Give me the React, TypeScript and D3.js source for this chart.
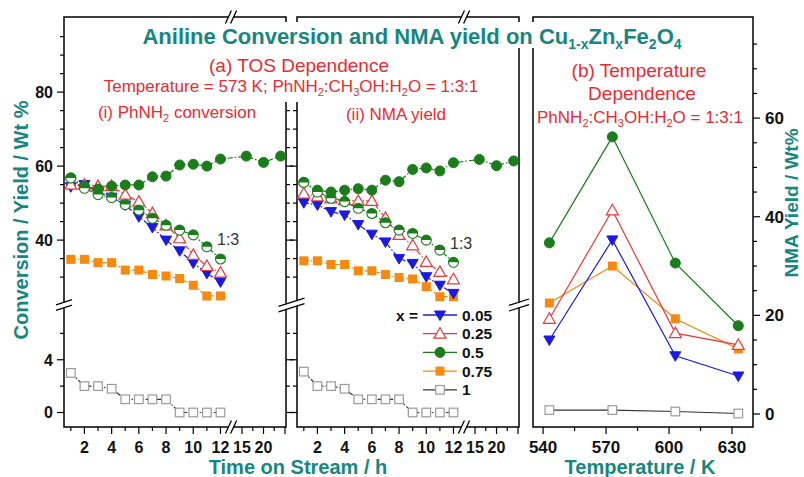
import React from 'react';
import * as d3 from 'd3';

// ---------------- data ----------------
const HOURS = [1, 2, 3, 4, 5, 6, 7, 8, 9, 10, 11, 12];
const HOURS_LONG = [16, 20, 24];
const TEMPS = [543, 573, 603, 633];

// (i) PhNH2 conversion, wt%
const CONV_X005 = [54.4, 55.0, 53.0, 51.6, 49.5, 46.3, 43.4, 40.0, 37.1, 33.8, 31.0, 28.7];
const CONV_X025 = [55.0, 55.0, 54.6, 54.6, 52.3, 50.4, 47.3, 44.0, 40.5, 36.0, 33.0, 31.2];
const CONV_X05 = [56.8, 54.6, 53.8, 54.6, 54.9, 54.9, 57.1, 57.3, 60.3, 60.5, 60.0, 61.9];
const CONV_X05_LONG = [62.7, 61.0, 62.7];
const CONV_X05_13 = [56.8, 54.0, 52.3, 51.5, 49.6, 48.1, 45.9, 44.0, 42.7, 41.4, 38.2, 34.9];
const CONV_X075 = [34.8, 34.8, 33.9, 33.9, 31.9, 31.9, 30.7, 30.3, 29.6, 27.8, 24.9, 24.9];
const CONV_X1 = [3.0, 2.0, 2.0, 1.8, 1.0, 1.0, 1.0, 1.0, 0, 0, 0, 0];

// (ii) NMA yield, wt%
const YIELD_X005 = [50.1, 49.5, 47.7, 46.8, 44.2, 41.6, 39.5, 35.0, 33.7, 30.1, 27.8, 25.6];
const YIELD_X025 = [52.6, 51.8, 51.3, 50.8, 50.6, 50.6, 46.0, 41.4, 38.6, 34.1, 31.4, 29.4];
const YIELD_X05 = [55.6, 53.5, 53.0, 53.5, 53.9, 53.5, 56.2, 55.8, 59.1, 59.5, 58.7, 60.9];
const YIELD_X05_LONG = [61.8, 60.1, 61.4];
const YIELD_X05_13 = [55.6, 53.0, 51.3, 50.4, 48.6, 47.2, 44.7, 42.7, 41.8, 40.0, 37.3, 34.0];
const YIELD_X075 = [34.4, 34.4, 33.4, 33.4, 31.7, 31.7, 30.7, 29.9, 29.5, 27.4, 24.7, 24.7];
const YIELD_X1 = [3.1, 2.0, 2.0, 1.8, 1.0, 1.0, 1.0, 1.0, 0, 0, 0, 0];

// (b) temperature dependence, NMA yield wt%
const TEMP_X005 = [15.0, 35.3, 11.8, 7.7];
const TEMP_X025 = [19.3, 41.3, 16.4, 14.0];
const TEMP_X05 = [34.7, 56.2, 30.6, 17.9];
const TEMP_X075 = [22.5, 30.0, 19.3, 13.2];
const TEMP_X1 = [0.8, 0.8, 0.5, 0.1];

const LEGEND_LABELS = ['0.05', '0.25', '0.5', '0.75', '1'];

// ---------------- styles ----------------
const W = 804, H = 477;
const FONT = 'Arial, "Liberation Sans", Helvetica, sans-serif';
const TEAL = '#16877f';
const RED_TXT = '#ea2a30';
const C_BLUE = '#1a1ae0';
const C_RED = '#e83838';
const C_GREEN = '#1a7d1a';
const C_ORANGE = '#f7890f';
const C_BLACK = '#333333';
const C_GREY = '#9a9a9a';
const DASH = '5,2,1.5,2';

type MType = 'down' | 'upOpen' | 'circle' | 'half' | 'square' | 'squareOpen';

const STYLES: { color: string; marker: MType }[] = [
  { color: C_BLUE, marker: 'down' },
  { color: C_RED, marker: 'upOpen' },
  { color: C_GREEN, marker: 'circle' },
  { color: C_ORANGE, marker: 'square' },
  { color: C_BLACK, marker: 'squareOpen' },
];

// ---------------- scales ----------------
const TOP = 17, BOT = 427;
const yUp = d3.scaleLinear().domain([23, 100.3]).range([303, TOP]);
const yLow = d3.scaleLinear().domain([-1.1, 8]).range([BOT, 307]);
const yTOS = (v: number) => (v >= 15 ? yUp(v) : yLow(v));

const PW = 222;
function makePanelX(x0: number) {
  const pre = d3.scaleLinear().domain([0.5, 12.7]).range([x0, x0 + 166]);
  const post = d3.scaleLinear().domain([12.67, 25.23]).range([x0 + 168, x0 + PW]);
  return (h: number) => (h <= 12.7 ? pre(h) : post(h));
}
const X_LEFT = 64, X_MID = 297, X_RIGHT = 533, X_RIGHT_END = 753;
const xL = makePanelX(X_LEFT);
const xM = makePanelX(X_MID);
const xT = d3.scaleLinear().domain([535.2, 640]).range([X_RIGHT, X_RIGHT_END]);
const yT = d3.scaleLinear().domain([-2.64, 80.5]).range([BOT, TOP]);

// ---------------- helpers ----------------
function Marker({ type, x, y, color }: { type: MType; x: number; y: number; color: string }) {
  switch (type) {
    case 'down':
      return <path d={`M${x - 5.5},${y - 4}L${x + 5.5},${y - 4}L${x},${y + 5.5}Z`} fill={color} stroke={color} strokeWidth={1} />;
    case 'upOpen':
      return <path d={`M${x},${y - 6}L${x + 6},${y + 4.5}L${x - 6},${y + 4.5}Z`} fill="white" stroke={color} strokeWidth={1.2} />;
    case 'circle':
      return <circle cx={x} cy={y} r={5} fill={color} stroke={color} strokeWidth={1} />;
    case 'half':
      return (
        <g>
          <circle cx={x} cy={y} r={5} fill="white" stroke={color} strokeWidth={1.1} />
          <path d={`M${x - 5},${y}A5,5 0 0,1 ${x + 5},${y}Z`} fill={color} />
        </g>
      );
    case 'square':
      return <rect x={x - 4.5} y={y - 4.5} width={9} height={9} fill={color} />;
    case 'squareOpen':
      return <rect x={x - 4.3} y={y - 4.3} width={8.6} height={8.6} fill="white" stroke={C_GREY} strokeWidth={1.2} />;
  }
  return null;
}

function Series({ pts, color, marker, dash, lineColor }: { pts: [number, number][]; color: string; marker: MType; dash?: string; lineColor?: string }) {
  const line = d3.line<[number, number]>().x((d) => d[0]).y((d) => d[1]);
  return (
    <g>
      <path d={line(pts) || ''} fill="none" stroke={lineColor || color} strokeWidth={1.2} strokeDasharray={dash} />
      {pts.map((p, i) => (
        <Marker key={i} type={marker} x={p[0]} y={p[1]} color={color} />
      ))}
    </g>
  );
}

type Seg = [string, boolean];
function Chem({ segs, sub, shift }: { segs: Seg[]; sub: number; shift: number }) {
  const out: React.ReactNode[] = [];
  let prevSub = false;
  segs.forEach(([t, isSub], i) => {
    let dy = 0;
    if (isSub && !prevSub) dy = shift;
    if (!isSub && prevSub) dy = -shift;
    out.push(
      <tspan key={i} dy={dy} fontSize={isSub ? sub : undefined}>
        {t}
      </tspan>
    );
    prevSub = isSub;
  });
  return <>{out}</>;
}

function VBreak({ cx, cy, hw }: { cx: number; cy: number; hw: number }) {
  const s = hw * 0.32;
  const g = 2.8;
  const a1: [number, number] = [cx - hw, cy - g + s];
  const a2: [number, number] = [cx + hw, cy - g - s];
  const b1: [number, number] = [cx - hw, cy + g + s];
  const b2: [number, number] = [cx + hw, cy + g - s];
  return (
    <g>
      <path d={`M${a1}L${a2}L${b2}L${b1}Z`} fill="white" />
      <path d={`M${a1}L${a2}M${b1}L${b2}`} stroke="black" strokeWidth={1.3} />
    </g>
  );
}

function HBreak({ cx, cy }: { cx: number; cy: number }) {
  const g = 2.6;
  const a1: [number, number] = [cx - g - 3, cy + 6.5];
  const a2: [number, number] = [cx - g + 3, cy - 6.5];
  const b1: [number, number] = [cx + g - 3, cy + 6.5];
  const b2: [number, number] = [cx + g + 3, cy - 6.5];
  return (
    <g>
      <path d={`M${a1}L${a2}L${b2}L${b1}Z`} fill="white" />
      <path d={`M${a1}L${a2}M${b1}L${b2}`} stroke="black" strokeWidth={1.3} />
    </g>
  );
}

const UP_TICKS = d3.range(30, 100, 5);
const LOW_TICKS = [0, 2, 4, 6];
const UP_MAJOR = [40, 60, 80];
const LOW_MAJOR = [0, 4];

function TOSYTicks({ x, dir, labels }: { x: number; dir: number; labels: boolean }) {
  const items: React.ReactNode[] = [];
  UP_TICKS.forEach((v) => {
    const maj = UP_MAJOR.includes(v);
    const y = yUp(v);
    items.push(<line key={'u' + v} x1={x} x2={x + dir * (maj ? 7 : 4)} y1={y} y2={y} stroke="black" strokeWidth={1.2} />);
    if (labels && maj)
      items.push(
        <text key={'ul' + v} x={x - 11} y={y + 5.8} textAnchor="end" fontSize={16} fontWeight="bold" fill="#111">
          {v}
        </text>
      );
  });
  LOW_TICKS.forEach((v) => {
    const maj = LOW_MAJOR.includes(v);
    const y = yLow(v);
    items.push(<line key={'l' + v} x1={x} x2={x + dir * (maj ? 7 : 4)} y1={y} y2={y} stroke="black" strokeWidth={1.2} />);
    if (labels && maj)
      items.push(
        <text key={'ll' + v} x={x - 11} y={y + 5.8} textAnchor="end" fontSize={16} fontWeight="bold" fill="#111">
          {v}
        </text>
      );
  });
  return <g>{items}</g>;
}

const PRE_TICKS = d3.range(1, 13);
const POST_TICKS = [15, 17.5, 20, 22.5, 25];
const X_LABELS = [2, 4, 6, 8, 10, 12, 15, 20];

function TOSXTicks({ xs }: { xs: (h: number) => number }) {
  const items: React.ReactNode[] = [];
  PRE_TICKS.forEach((h) => {
    const maj = h % 2 === 0;
    const x = xs(h);
    items.push(<line key={'p' + h} x1={x} x2={x} y1={BOT} y2={BOT + (maj ? 7 : 4)} stroke="black" strokeWidth={1.2} />);
  });
  POST_TICKS.forEach((h) => {
    const maj = h % 5 === 0;
    const x = xs(h);
    items.push(<line key={'q' + h} x1={x} x2={x} y1={BOT} y2={BOT + (maj ? 7 : 4)} stroke="black" strokeWidth={1.2} />);
  });
  X_LABELS.forEach((h) => {
    items.push(
      <text key={'t' + h} x={xs(h)} y={453} textAnchor="middle" fontSize={16} fontWeight="bold" fill="#111">
        {h}
      </text>
    );
  });
  return <g>{items}</g>;
}

function TOSPanel({ xs, b, r, g, g13, gLong, o, k }: { xs: (h: number) => number; b: number[]; r: number[]; g: number[]; g13: number[]; gLong: number[]; o: number[]; k: number[] }) {
  const pts = (vals: number[]): [number, number][] => vals.map((v, i) => [xs(HOURS[i]), yTOS(v)]);
  const gPts: [number, number][] = [...pts(g), ...gLong.map((v, i) => [xs(HOURS_LONG[i]), yTOS(v)] as [number, number])];
  return (
    <g>
      <Series pts={pts(k)} color={C_BLACK} lineColor={C_BLACK} marker="squareOpen" dash={DASH} />
      <Series pts={pts(o)} color={C_ORANGE} marker="square" dash={DASH} />
      <Series pts={pts(b)} color={C_BLUE} marker="down" dash={DASH} />
      <Series pts={pts(r)} color={C_RED} marker="upOpen" dash={DASH} />
      <Series pts={gPts} color={C_GREEN} marker="circle" dash={DASH} />
      <Series pts={pts(g13)} color={C_GREEN} marker="half" dash={DASH} />
    </g>
  );
}

const CHEM_RATIO: Seg[] = [
  ['PhNH', false], ['2', true], [':CH', false], ['3', true], ['OH:H', false], ['2', true], ['O = 1:3:1', false],
];
const TITLE: Seg[] = [
  ['Aniline Conversion and NMA yield on Cu', false], ['1-x', true], ['Zn', false], ['x', true], ['Fe', false], ['2', true], ['O', false], ['4', true],
];

export default function App() {
  const tempSeries = [TEMP_X005, TEMP_X025, TEMP_X05, TEMP_X075, TEMP_X1];
  const rightTicks = d3.range(0, 80, 5);
  const tTicks = d3.range(540, 631, 15);
  const legendY = d3.range(5).map((i) => 315 + i * 18.7);
  return (
    <svg width={W} height={H} style={{ position: 'absolute', left: 0, top: 0, display: 'block' }} fontFamily={FONT}>
      <rect width={W} height={H} fill="white" />

      {/* frames */}
      <rect x={X_LEFT} y={TOP} width={PW} height={BOT - TOP} fill="none" stroke="black" strokeWidth={1.5} />
      <rect x={X_MID} y={TOP} width={PW} height={BOT - TOP} fill="none" stroke="black" strokeWidth={1.5} />
      <rect x={X_RIGHT} y={TOP} width={X_RIGHT_END - X_RIGHT} height={BOT - TOP} fill="none" stroke="black" strokeWidth={1.5} />

      {/* axis ticks */}
      <TOSYTicks x={X_LEFT} dir={-1} labels={true} />
      <TOSYTicks x={X_LEFT + PW} dir={1} labels={false} />
      <TOSYTicks x={X_MID} dir={-1} labels={false} />
      <TOSXTicks xs={xL} />
      <TOSXTicks xs={xM} />

      {rightTicks.map((v) => {
        const maj = v % 20 === 0;
        const y = yT(v);
        return (
          <g key={'rt' + v}>
            <line x1={X_RIGHT_END} x2={X_RIGHT_END + (maj ? 7 : 4)} y1={y} y2={y} stroke="black" strokeWidth={1.2} />
            {maj && (
              <text x={X_RIGHT_END + 12} y={y + 6} fontSize={17} fontWeight="bold" fill="#111">
                {v}
              </text>
            )}
          </g>
        );
      })}
      {tTicks.map((t) => {
        const maj = t % 30 === 0;
        const x = xT(t);
        return (
          <g key={'tt' + t}>
            <line x1={x} x2={x} y1={BOT} y2={BOT + (maj ? 7 : 4)} stroke="black" strokeWidth={1.2} />
            {maj && (
              <text x={x} y={453} textAnchor="middle" fontSize={17} fontWeight="bold" fill="#111">
                {t}
              </text>
            )}
          </g>
        );
      })}

      {/* white masks behind headings */}
      <rect x={140} y={22} width={550} height={26} fill="white" />
      <rect x={279} y={48} width={25} height={54} fill="white" />

      {/* breaks */}
      <VBreak cx={X_LEFT} cy={305} hw={8} />
      <VBreak cx={(X_LEFT + PW + X_MID) / 2} cy={305} hw={13} />
      <VBreak cx={X_MID + PW} cy={305} hw={10} />
      <HBreak cx={X_LEFT + 167} cy={BOT} />
      <HBreak cx={X_LEFT + 167} cy={TOP} />
      <HBreak cx={X_MID + 167} cy={BOT} />
      <HBreak cx={X_MID + 167} cy={TOP} />

      {/* data */}
      <TOSPanel xs={xL} b={CONV_X005} r={CONV_X025} g={CONV_X05} g13={CONV_X05_13} gLong={CONV_X05_LONG} o={CONV_X075} k={CONV_X1} />
      <TOSPanel xs={xM} b={YIELD_X005} r={YIELD_X025} g={YIELD_X05} g13={YIELD_X05_13} gLong={YIELD_X05_LONG} o={YIELD_X075} k={YIELD_X1} />
      {[4, 3, 2, 1, 0].map((si) => (
        <Series
          key={'ts' + si}
          pts={tempSeries[si].map((v, i) => [xT(TEMPS[i]), yT(v)] as [number, number])}
          color={STYLES[si].color}
          marker={STYLES[si].marker}
        />
      ))}

      {/* 1:3 labels */}
      <text x={217} y={245} fontSize={16} fill="#333">1:3</text>
      <text x={450} y={249} fontSize={16} fill="#333">1:3</text>

      {/* legend */}
      <text x={418} y={legendY[0] + 5.5} textAnchor="end" fontSize={15.5} fontWeight="bold" fill="#111">x =</text>
      {LEGEND_LABELS.map((lab, i) => (
        <g key={'lg' + i}>
          <line x1={423} x2={457} y1={legendY[i]} y2={legendY[i]} stroke={STYLES[i].color} strokeWidth={1.3} />
          <Marker type={STYLES[i].marker} x={440} y={legendY[i]} color={STYLES[i].color} />
          <text x={462} y={legendY[i] + 5.5} fontSize={15.5} fontWeight="bold" fill="#111">
            {lab}
          </text>
        </g>
      ))}

      {/* headings */}
      <text x={412} y={44} textAnchor="middle" fontSize={22} fontWeight="bold" fill={TEAL}>
        <Chem segs={TITLE} sub={14} shift={5} />
      </text>
      <text x={299} y={72} textAnchor="middle" fontSize={19} fill={RED_TXT}>(a) TOS Dependence</text>
      <text x={291} y={92} textAnchor="middle" fontSize={17} fill={RED_TXT}>
        <Chem segs={[['Temperature = 573 K; ', false], ...CHEM_RATIO]} sub={11} shift={4} />
      </text>
      <text x={177} y={118} textAnchor="middle" fontSize={17} fill={RED_TXT}>
        <Chem segs={[['(i) PhNH', false], ['2', true], [' conversion', false]]} sub={11} shift={4} />
      </text>
      <text x={396} y={120} textAnchor="middle" fontSize={17} fill={RED_TXT}>(ii) NMA yield</text>
      <text x={639} y={77} textAnchor="middle" fontSize={19} fill={RED_TXT}>(b) Temperature</text>
      <text x={642} y={100} textAnchor="middle" fontSize={19} fill={RED_TXT}>Dependence</text>
      <text x={640} y={123} textAnchor="middle" fontSize={17} fill={RED_TXT}>
        <Chem segs={CHEM_RATIO} sub={11} shift={4} />
      </text>

      {/* axis titles */}
      <text x={298} y={474} textAnchor="middle" fontSize={20} fontWeight="bold" fill={TEAL}>Time on Stream / h</text>
      <text x={640} y={474} textAnchor="middle" fontSize={20} fontWeight="bold" fill={TEAL}>Temperature / K</text>
      <text transform="translate(28,220) rotate(-90)" textAnchor="middle" fontSize={20} fontWeight="bold" fill={TEAL}>
        Conversion / Yield / Wt %
      </text>
      <text transform="translate(798,203) rotate(-90)" textAnchor="middle" fontSize={19} fontWeight="bold" fill={TEAL}>
        NMA Yield / Wt%
      </text>
    </svg>
  );
}
